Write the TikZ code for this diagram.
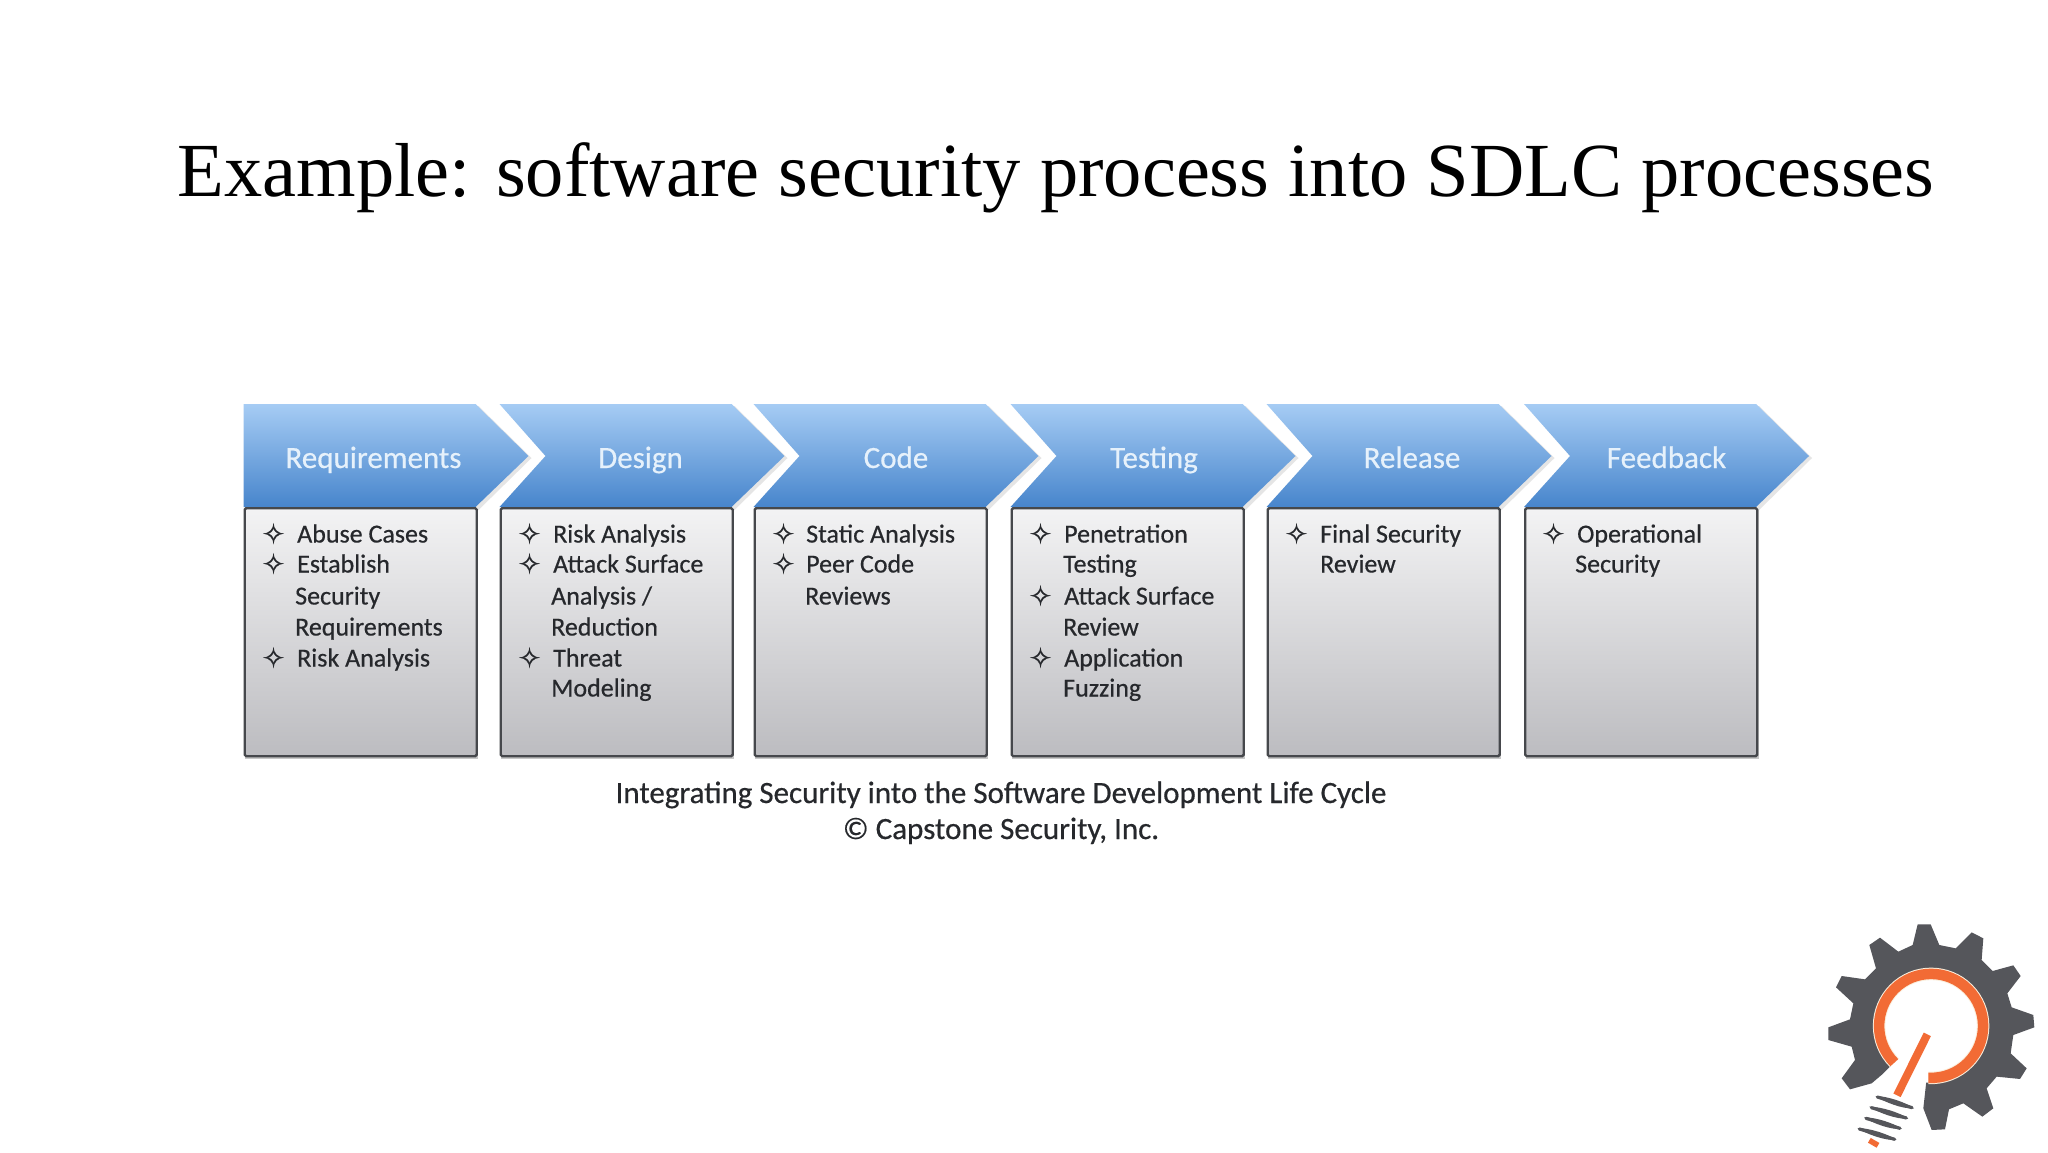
\documentclass[tikz,border=0pt]{standalone}
\usepackage{fontspec}
\setmainfont{Carlito}
\newfontfamily\heavyfont[FakeBold=0.5]{Carlito}
\newfontfamily\titlefont{Liberation Serif}
\newfontfamily\symfont[FakeBold=0.7]{DejaVu Sans}
\definecolor{gearC}{HTML}{55565B}
\definecolor{orangeC}{HTML}{F26B35}
\definecolor{creamC}{HTML}{FBEFDD}
\definecolor{frameC}{HTML}{46484C}
\definecolor{inkC}{HTML}{26282C}
\definecolor{boxTop}{HTML}{F3F3F4}
\definecolor{boxBot}{HTML}{BCBCC0}
\definecolor{arrowTop}{HTML}{A6CCF4}
\definecolor{arrowBot}{HTML}{4785CC}
\definecolor{labelC}{HTML}{E6F1FB}
\tikzset{
  stagebox/.style={draw=frameC,line width=2.4pt,rounded corners=1.5pt,top color=boxTop,bottom color=boxBot,anchor=north west,minimum width=232pt,minimum height=248pt,inner sep=0pt},
  boxshadow/.style={fill=black!22,draw=none},
  arrowfill/.style={top color=arrowTop,bottom color=arrowBot,draw=none},
  arrowshadow/.style={fill=black!10,draw=none},
  stagelabel/.style={text=labelC,inner sep=0pt,anchor=base,font=\heavyfont\fontsize{31}{34}\selectfont},
  itemtext/.style={text=inkC,inner sep=0pt,anchor=base west,font=\heavyfont\fontsize{26}{30}\selectfont},
  itembullet/.style={text=inkC,inner sep=0pt,anchor=base,font=\symfont\fontsize{27}{30}\selectfont},
  captiontext/.style={text=inkC,inner sep=0pt,anchor=base,font=\heavyfont\fontsize{31}{34}\selectfont},
  titletext/.style={text=black,inner sep=0pt,anchor=base,font=\titlefont\fontsize{76.5}{90}\selectfont},
}
% \stage{id}{box left}{notch depth}{label}{label centre x}
\newcommand{\stage}[5]{%
  \fill[arrowshadow] (#2+3,406) -- (#2+232+3,406) -- (#2+232+53+3,458) -- (#2+232+3,510) -- (#2+3,510) -- (#2+#3+3,458) -- cycle;
  \path[arrowfill] (#2,404) -- (#2+232,404) -- (#2+232+53,456) -- (#2+232,507) -- (#2,507) -- (#2+#3,456) -- cycle;
  \fill[boxshadow] (#2+1.5,510) rectangle (#2+234.5,758.5);
  \node[stagebox] (box#1) at (#2,507) {};
  \node[stagelabel] (label#1) at (#5,468) {#4};
}
\newcommand{\bul}[3]{\node[itembullet] (b#1) at (#2+29.5,#3+0.5) {✧};}
\newcommand{\itm}[4]{\node[itemtext] at (#2+#3,#4-0.5) {#1};}
\newcommand{\thread}[4]{%
  \fill[gearC] (#1,#2) .. controls (#1+35,#2) and (#3-25,#4-18) .. (#3,#4) .. controls (#3-35,#4+3) and (#1+25,#2+17) .. (#1,#2) -- cycle;
  \draw[gearC,line width=3.2pt,line cap=round] (#1+6,#2+3) -- (#3-6,#4-2);
}
\begin{document}
\begin{tikzpicture}[x=1pt,y=-1pt]
\useasboundingbox (0,0) rectangle (2048,1152);
\fill[white] (0,0) rectangle (2048,1152);
\node[titletext] (title) at (1056,196.5) {Example: software security process into SDLC processes};

\stage{R}{243.5}{0}{Requirements}{373.5}
\stage{D}{499.5}{46}{Design}{640.5}
\stage{C}{753.5}{46}{Code}{896}
\stage{T}{1010.5}{46}{Testing}{1154}
\stage{L}{1266.5}{46}{Release}{1412}
\stage{F}{1524}{46}{Feedback}{1666.5}

% Requirements
\bul{r1}{244}{543}\itm{Abuse Cases}{244}{53}{543}
\bul{r2}{244}{573}\itm{Establish}{244}{53}{573}
\itm{Security}{244}{51}{605}
\itm{Requirements}{244}{51}{636}
\bul{r3}{244}{667}\itm{Risk Analysis}{244}{53}{667}
% Design
\bul{d1}{500}{543}\itm{Risk Analysis}{500}{53}{543}
\bul{d2}{500}{573}\itm{Attack Surface}{500}{53}{573}
\itm{Analysis /}{500}{51}{605}
\itm{Reduction}{500}{51}{636}
\bul{d3}{500}{667}\itm{Threat}{500}{53}{667}
\itm{Modeling}{500}{51}{697}
% Code
\bul{c1}{754}{543}\itm{Static Analysis}{754}{52}{543}
\bul{c2}{754}{573}\itm{Peer Code}{754}{52}{573}
\itm{Reviews}{754}{51}{605}
% Testing
\bul{t1}{1011}{543}\itm{Penetration}{1011}{53}{543}
\itm{Testing}{1011}{52}{573}
\bul{t2}{1011}{605}\itm{Attack Surface}{1011}{53}{605}
\itm{Review}{1011}{52}{636}
\bul{t3}{1011}{667}\itm{Application}{1011}{53}{667}
\itm{Fuzzing}{1011}{52}{697}
% Release
\bul{l1}{1267}{543}\itm{Final Security}{1267}{53}{543}
\itm{Review}{1267}{53}{573}
% Feedback
\bul{f1}{1524}{543}\itm{Operational}{1524}{53}{543}
\itm{Security}{1524}{51}{573}

\node[captiontext] (cap1) at (1001,803) {Integrating Security into the Software Development Life Cycle};
\node[captiontext] (cap2) at (1001,839) {© Capstone Security, Inc.};

% logo
\begin{scope}[shift={(1800,900)},x=0.3333pt,y=-0.3333pt]
\fill[gearC] (370,625)--(395,690)--(435,688)--(447,628)--(490,610)--(547,650)--(580,625)--(560,565)--(590,530)--(660,537)--(680,505)--(632,460)--(640,405)--(703,382)--(700,345)--(635,322)--(622,280)--(662,228)--(640,196)--(578,213)--(545,180)--(550,115)--(515,97)--(467,145)--(418,135)--(392,73)--(353,73)--(338,135)--(295,155)--(240,113)--(208,135)--(228,205)--(195,238)--(125,228)--(108,262)--(160,310)--(150,358)--(85,382)--(85,420)--(155,440)--(165,480)--(125,535)--(150,568)--(215,550)--(248,522)--(272,498)
  arc[start angle=225,end angle=-95,radius=57.3pt]--cycle;
\draw[creamC,line width=12.5pt] (283,488) arc[start angle=225,end angle=-93,radius=52pt];
\draw[orangeC,line width=10.5pt] (283,488) arc[start angle=225,end angle=-93,radius=52pt];
\draw[orangeC,line width=8pt] (382,403)--(291,586);
\thread{226}{588}{342}{625}
\thread{208}{620}{325}{656}
\thread{192}{652}{306}{687}
\thread{172}{684}{290}{720}
\draw[orangeC,line width=5.5pt] (208,721)--(234,736);
\end{scope}
\end{tikzpicture}
\end{document}
